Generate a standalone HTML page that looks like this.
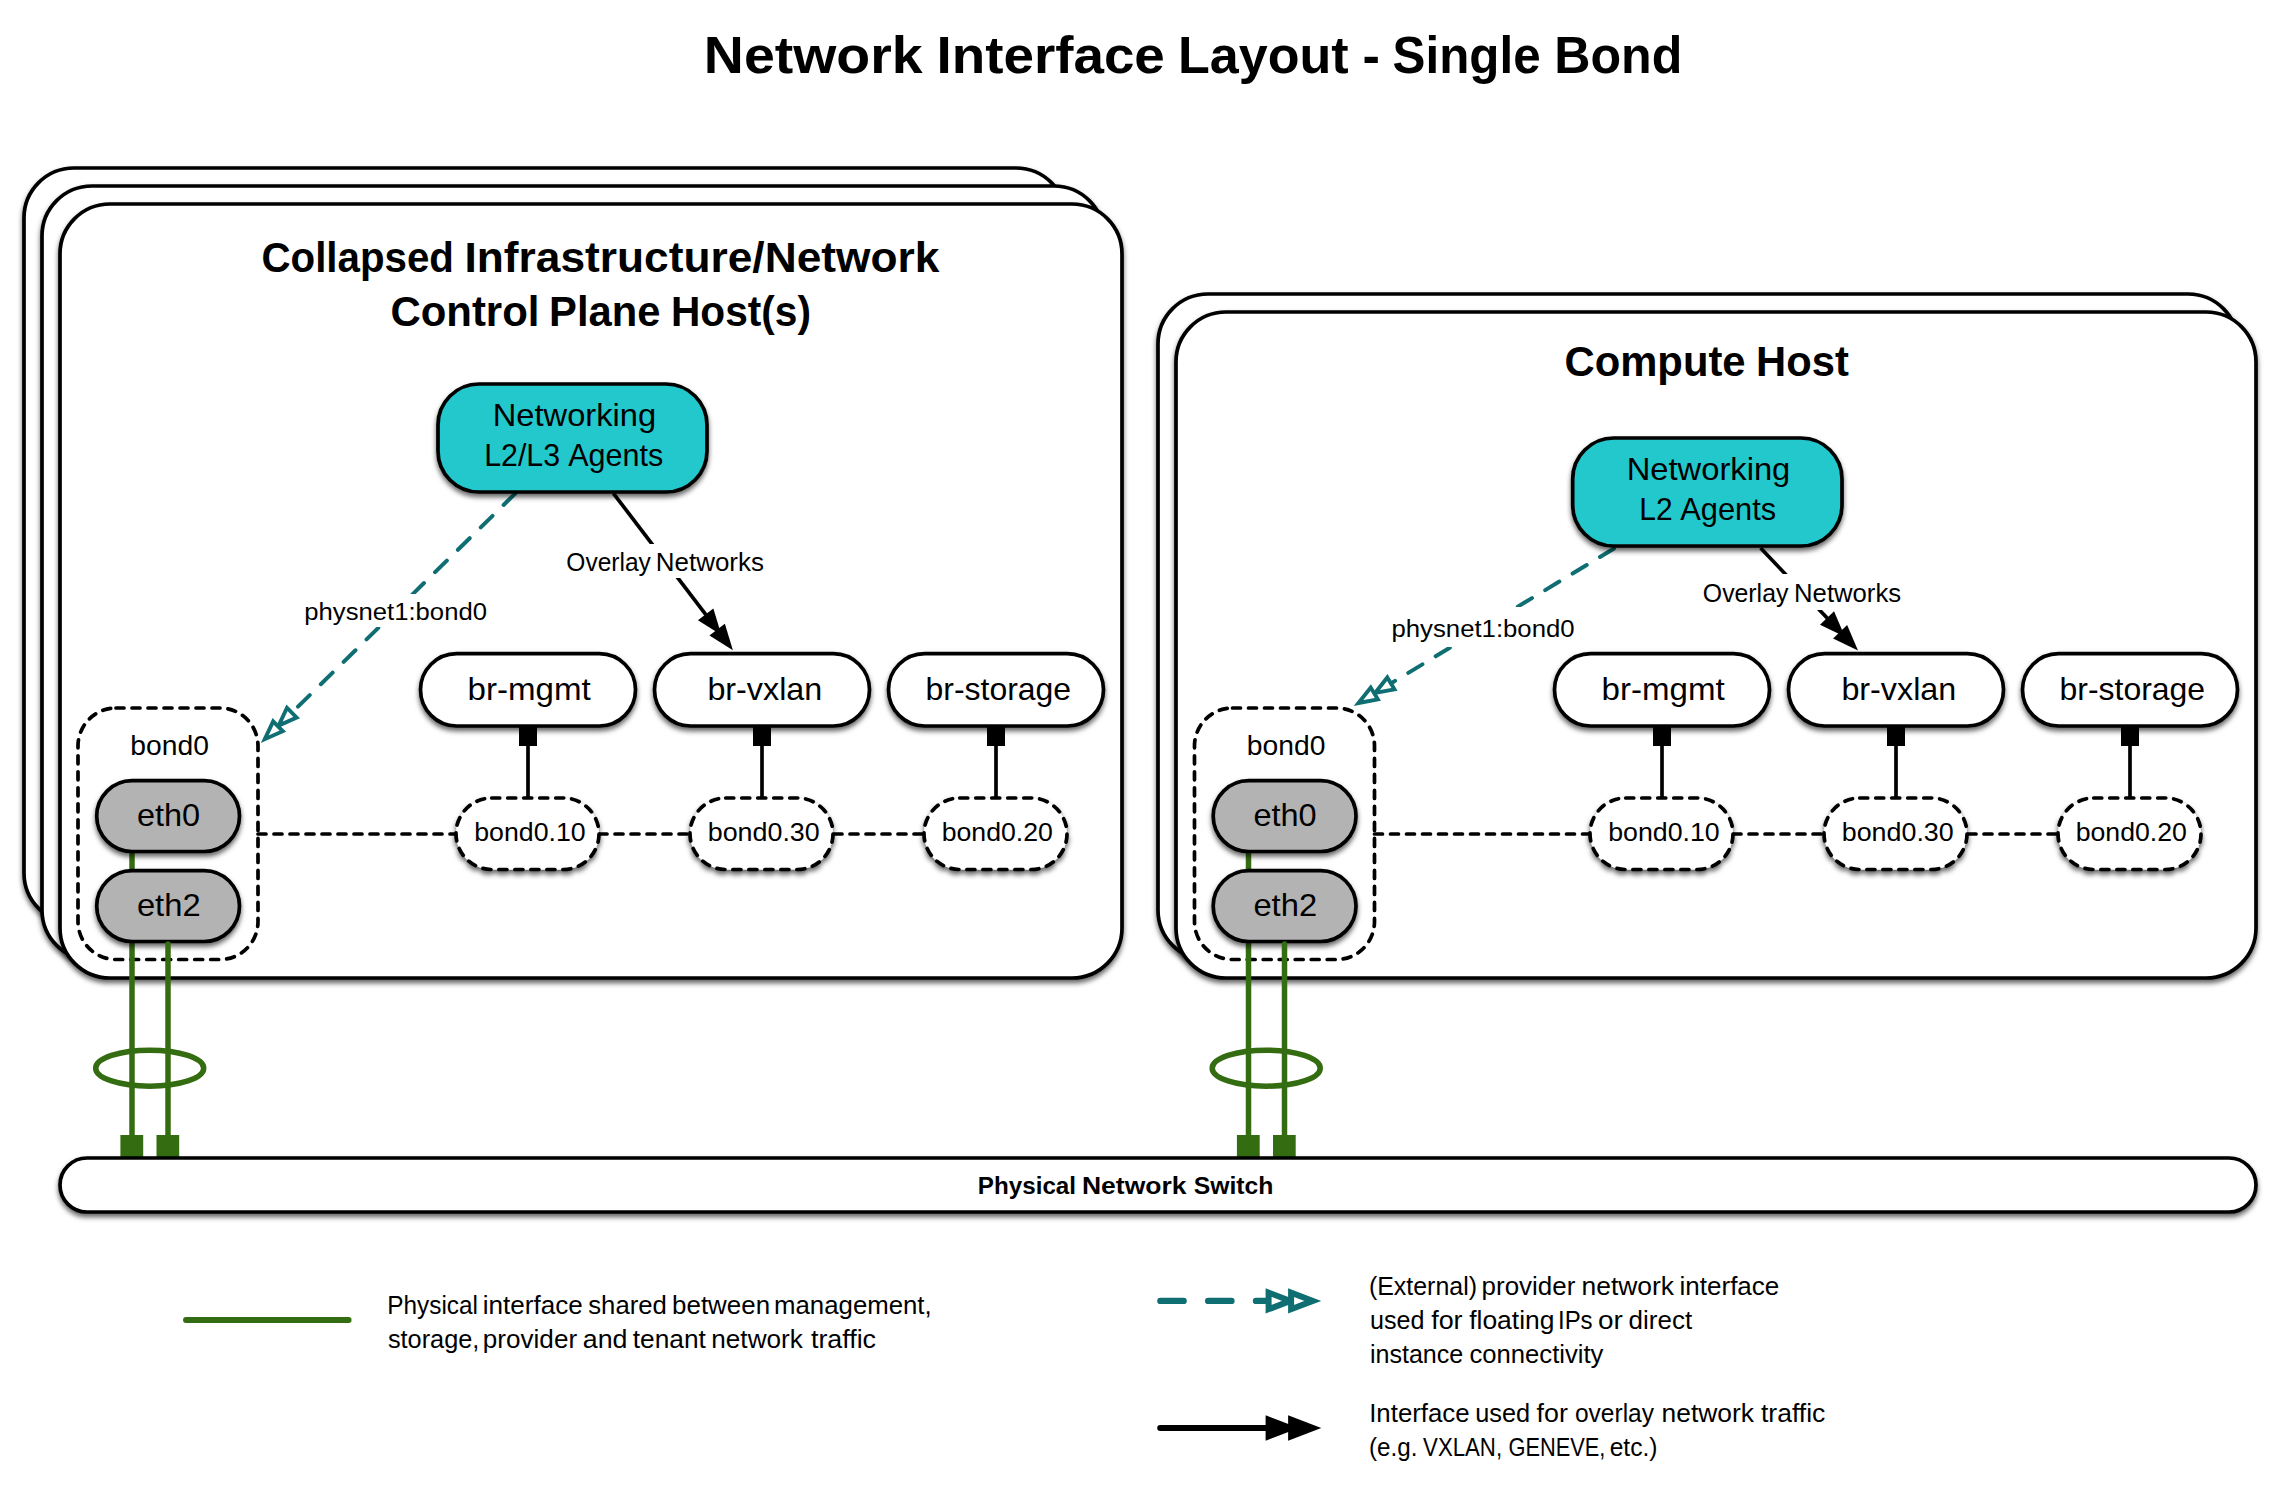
<!DOCTYPE html>
<html><head><meta charset="utf-8"><title>Network Interface Layout - Single Bond</title>
<style>html,body{margin:0;padding:0;background:#fff;}svg{display:block;font-family:"Liberation Sans", sans-serif;}</style>
</head><body>
<svg width="2278" height="1492" viewBox="0 0 2278 1492">
<defs><filter id="sh" x="-10%" y="-10%" width="120%" height="130%"><feDropShadow dx="0" dy="3.5" stdDeviation="2.5" flood-color="#000" flood-opacity="0.6"/></filter></defs>
<rect x="0" y="0" width="2278" height="1492" fill="#fff"/>
<text x="703.86" y="72.70" font-size="52" font-weight="bold" textLength="218.73" lengthAdjust="spacingAndGlyphs" fill="#000">Network</text>
<text x="936.50" y="72.70" font-size="52" font-weight="bold" textLength="228.34" lengthAdjust="spacingAndGlyphs" fill="#000">Interface</text>
<text x="1178.09" y="72.70" font-size="52" font-weight="bold" textLength="170.59" lengthAdjust="spacingAndGlyphs" fill="#000">Layout</text>
<text x="1362.41" y="72.70" font-size="52" font-weight="bold" textLength="17.41" lengthAdjust="spacingAndGlyphs" fill="#000">-</text>
<text x="1392.62" y="72.70" font-size="52" font-weight="bold" textLength="148.01" lengthAdjust="spacingAndGlyphs" fill="#000">Single</text>
<text x="1554.22" y="72.70" font-size="52" font-weight="bold" textLength="128.03" lengthAdjust="spacingAndGlyphs" fill="#000">Bond</text>
<rect x="24.00" y="168.00" width="1042.00" height="755.00" rx="50.00" ry="50.00" fill="#fff" stroke="#000" stroke-width="3.7" filter="url(#sh)"/>
<rect x="42.00" y="186.00" width="1062.00" height="774.00" rx="50.00" ry="50.00" fill="#fff" stroke="#000" stroke-width="3.7" filter="url(#sh)"/>
<rect x="60.00" y="204.00" width="1062.00" height="774.00" rx="50.00" ry="50.00" fill="#fff" stroke="#000" stroke-width="3.7" filter="url(#sh)"/>
<rect x="1158.00" y="294.00" width="1080.00" height="666.00" rx="50.00" ry="50.00" fill="#fff" stroke="#000" stroke-width="3.7" filter="url(#sh)"/>
<rect x="1176.00" y="312.00" width="1080.00" height="666.00" rx="50.00" ry="50.00" fill="#fff" stroke="#000" stroke-width="3.7" filter="url(#sh)"/>
<text x="261.49" y="271.90" font-size="42" font-weight="bold" textLength="192.49" lengthAdjust="spacingAndGlyphs" fill="#000">Collapsed</text>
<text x="464.41" y="271.90" font-size="42" font-weight="bold" textLength="474.98" lengthAdjust="spacingAndGlyphs" fill="#000">Infrastructure/Network</text>
<text x="390.42" y="326.40" font-size="42" font-weight="bold" textLength="149.00" lengthAdjust="spacingAndGlyphs" fill="#000">Control</text>
<text x="549.08" y="326.40" font-size="42" font-weight="bold" textLength="111.40" lengthAdjust="spacingAndGlyphs" fill="#000">Plane</text>
<text x="670.96" y="326.40" font-size="42" font-weight="bold" textLength="140.05" lengthAdjust="spacingAndGlyphs" fill="#000">Host(s)</text>
<text x="1564.53" y="376.20" font-size="42" font-weight="bold" textLength="181.06" lengthAdjust="spacingAndGlyphs" fill="#000">Compute</text>
<text x="1756.08" y="376.20" font-size="42" font-weight="bold" textLength="92.73" lengthAdjust="spacingAndGlyphs" fill="#000">Host</text>
<line x1="516.80" y1="492.00" x2="289.36" y2="715.09" stroke="#0F6E72" stroke-width="4.0" stroke-linecap="round" stroke-dasharray="16.5 15.5" stroke-dashoffset="-2"/>
<line x1="613.40" y1="493.30" x2="708.66" y2="618.38" stroke="#000" stroke-width="3.7" stroke-linecap="butt"/>
<rect x="438.00" y="384.00" width="269.00" height="108.00" rx="41.00" ry="41.00" fill="#21C8CC" stroke="#000" stroke-width="3.7" filter="url(#sh)"/>
<text x="492.81" y="425.80" font-size="30.5" font-weight="normal" textLength="163.30" lengthAdjust="spacingAndGlyphs" fill="#000">Networking</text>
<text x="484.20" y="465.90" font-size="30.5" font-weight="normal" textLength="75.89" lengthAdjust="spacingAndGlyphs" fill="#000">L2/L3</text>
<text x="568.22" y="465.90" font-size="30.5" font-weight="normal" textLength="95.07" lengthAdjust="spacingAndGlyphs" fill="#000">Agents</text>
<rect x="298" y="594" width="196" height="33" fill="#fff"/>
<text x="304.33" y="620.00" font-size="23.5" font-weight="normal" textLength="182.63" lengthAdjust="spacingAndGlyphs" fill="#000">physnet1:bond0</text>
<rect x="560" y="544" width="210" height="34" fill="#fff"/>
<text x="566.33" y="571.30" font-size="25.5" font-weight="normal" textLength="84.54" lengthAdjust="spacingAndGlyphs" fill="#000">Overlay</text>
<text x="655.86" y="571.30" font-size="25.5" font-weight="normal" textLength="108.05" lengthAdjust="spacingAndGlyphs" fill="#000">Networks</text>
<polygon points="278.63,725.61 286.99,707.75 296.64,717.59" fill="#fff" stroke="#0F6E72" stroke-width="3.9" stroke-linejoin="miter" stroke-miterlimit="10"/>
<polygon points="264.78,739.19 273.14,721.34 282.79,731.18" fill="#fff" stroke="#0F6E72" stroke-width="3.9" stroke-linejoin="miter" stroke-miterlimit="10"/>
<polygon points="721.39,635.08 697.92,620.28 713.35,608.52" fill="#000"/>
<polygon points="732.90,650.20 709.43,635.39 724.86,623.64" fill="#000"/>
<rect x="519.00" y="727" width="18" height="19" fill="#000"/>
<line x1="528.00" y1="746.00" x2="528.00" y2="798.00" stroke="#000" stroke-width="3.7" stroke-linecap="butt"/>
<rect x="753.00" y="727" width="18" height="19" fill="#000"/>
<line x1="762.00" y1="746.00" x2="762.00" y2="798.00" stroke="#000" stroke-width="3.7" stroke-linecap="butt"/>
<rect x="987.00" y="727" width="18" height="19" fill="#000"/>
<line x1="996.00" y1="746.00" x2="996.00" y2="798.00" stroke="#000" stroke-width="3.7" stroke-linecap="butt"/>
<line x1="258.00" y1="834.00" x2="456.00" y2="834.00" stroke="#000" stroke-width="3.7" stroke-linecap="round" stroke-dasharray="8 8" stroke-dashoffset="0"/>
<line x1="599.00" y1="834.00" x2="690.00" y2="834.00" stroke="#000" stroke-width="3.7" stroke-linecap="round" stroke-dasharray="8 8" stroke-dashoffset="0"/>
<line x1="834.00" y1="834.00" x2="924.50" y2="834.00" stroke="#000" stroke-width="3.7" stroke-linecap="round" stroke-dasharray="8 8" stroke-dashoffset="0"/>
<rect x="420.50" y="653.70" width="215.00" height="72.30" rx="36.15" ry="36.15" fill="#fff" stroke="#000" stroke-width="3.7" filter="url(#sh)"/>
<text x="467.55" y="700.00" font-size="31.5" font-weight="normal" textLength="123.09" lengthAdjust="spacingAndGlyphs" fill="#000">br-mgmt</text>
<rect x="654.50" y="653.70" width="215.00" height="72.30" rx="36.15" ry="36.15" fill="#fff" stroke="#000" stroke-width="3.7" filter="url(#sh)"/>
<text x="707.40" y="700.00" font-size="31.5" font-weight="normal" textLength="114.87" lengthAdjust="spacingAndGlyphs" fill="#000">br-vxlan</text>
<rect x="888.50" y="653.70" width="215.00" height="72.30" rx="36.15" ry="36.15" fill="#fff" stroke="#000" stroke-width="3.7" filter="url(#sh)"/>
<text x="925.52" y="700.00" font-size="31.5" font-weight="normal" textLength="145.64" lengthAdjust="spacingAndGlyphs" fill="#000">br-storage</text>
<rect x="456.00" y="798.00" width="143.00" height="71.50" rx="35.75" ry="35.75" fill="#fff" stroke="#000" stroke-width="3.7" stroke-dasharray="8 8" stroke-linecap="round" filter="url(#sh)"/>
<text x="474.26" y="840.50" font-size="25.5" font-weight="normal" textLength="111.47" lengthAdjust="spacingAndGlyphs" fill="#000">bond0.10</text>
<rect x="690.00" y="798.00" width="143.00" height="71.50" rx="35.75" ry="35.75" fill="#fff" stroke="#000" stroke-width="3.7" stroke-dasharray="8 8" stroke-linecap="round" filter="url(#sh)"/>
<text x="707.75" y="840.50" font-size="25.5" font-weight="normal" textLength="111.98" lengthAdjust="spacingAndGlyphs" fill="#000">bond0.30</text>
<rect x="924.00" y="798.00" width="143.00" height="71.50" rx="35.75" ry="35.75" fill="#fff" stroke="#000" stroke-width="3.7" stroke-dasharray="8 8" stroke-linecap="round" filter="url(#sh)"/>
<text x="941.67" y="840.50" font-size="25.5" font-weight="normal" textLength="111.26" lengthAdjust="spacingAndGlyphs" fill="#000">bond0.20</text>
<rect x="78.00" y="708.00" width="180.00" height="251.50" rx="38.00" ry="38.00" fill="none" stroke="#000" stroke-width="3.7" stroke-dasharray="8 8" stroke-linecap="round"/>
<text x="130.36" y="754.90" font-size="27.4" font-weight="normal" textLength="78.52" lengthAdjust="spacingAndGlyphs" fill="#000">bond0</text>
<line x1="132.00" y1="851.00" x2="132.00" y2="1140.00" stroke="#346C11" stroke-width="5.5" stroke-linecap="butt"/>
<rect x="96.70" y="780.70" width="142.80" height="70.80" rx="35.40" ry="35.40" fill="#B3B3B3" stroke="#000" stroke-width="3.7" filter="url(#sh)"/>
<text x="136.92" y="825.70" font-size="31.6" font-weight="normal" textLength="63.24" lengthAdjust="spacingAndGlyphs" fill="#000">eth0</text>
<rect x="96.70" y="870.60" width="142.80" height="70.90" rx="35.40" ry="35.40" fill="#B3B3B3" stroke="#000" stroke-width="3.7" filter="url(#sh)"/>
<text x="136.91" y="915.60" font-size="31.6" font-weight="normal" textLength="63.67" lengthAdjust="spacingAndGlyphs" fill="#000">eth2</text>
<line x1="168.00" y1="944.00" x2="168.00" y2="1140.00" stroke="#346C11" stroke-width="5.5" stroke-linecap="round"/>
<ellipse cx="149.70" cy="1068.2" rx="54" ry="18" fill="none" stroke="#346C11" stroke-width="5.5"/>
<rect x="120.40" y="1135" width="22.8" height="22" fill="#346C11"/>
<rect x="156.50" y="1135" width="22.7" height="22" fill="#346C11"/>
<line x1="1615.80" y1="547.40" x2="1387.93" y2="685.20" stroke="#0F6E72" stroke-width="4.0" stroke-linecap="round" stroke-dasharray="16.5 15.5" stroke-dashoffset="-2"/>
<line x1="1760.60" y1="548.00" x2="1830.46" y2="621.59" stroke="#000" stroke-width="3.7" stroke-linecap="butt"/>
<rect x="1572.70" y="438.00" width="269.30" height="108.00" rx="41.00" ry="41.00" fill="#21C8CC" stroke="#000" stroke-width="3.7" filter="url(#sh)"/>
<text x="1626.70" y="479.50" font-size="30.5" font-weight="normal" textLength="163.61" lengthAdjust="spacingAndGlyphs" fill="#000">Networking</text>
<text x="1639.23" y="519.90" font-size="30.5" font-weight="normal" textLength="33.34" lengthAdjust="spacingAndGlyphs" fill="#000">L2</text>
<text x="1680.22" y="519.90" font-size="30.5" font-weight="normal" textLength="95.88" lengthAdjust="spacingAndGlyphs" fill="#000">Agents</text>
<rect x="1385" y="607" width="197" height="40" fill="#fff"/>
<text x="1391.53" y="636.90" font-size="23.5" font-weight="normal" textLength="183.03" lengthAdjust="spacingAndGlyphs" fill="#000">physnet1:bond0</text>
<rect x="1697" y="574" width="211" height="36" fill="#fff"/>
<text x="1702.82" y="601.90" font-size="25.5" font-weight="normal" textLength="85.55" lengthAdjust="spacingAndGlyphs" fill="#000">Overlay</text>
<text x="1794.08" y="601.90" font-size="25.5" font-weight="normal" textLength="107.02" lengthAdjust="spacingAndGlyphs" fill="#000">Networks</text>
<polygon points="1375.07,692.97 1387.31,677.52 1394.45,689.31" fill="#fff" stroke="#0F6E72" stroke-width="3.9" stroke-linejoin="miter" stroke-miterlimit="10"/>
<polygon points="1358.47,703.01 1370.71,687.56 1377.85,699.35" fill="#fff" stroke="#0F6E72" stroke-width="3.9" stroke-linejoin="miter" stroke-miterlimit="10"/>
<polygon points="1844.92,636.82 1819.98,624.64 1834.05,611.29" fill="#000"/>
<polygon points="1858.00,650.60 1833.06,638.42 1847.13,625.07" fill="#000"/>
<rect x="1653.00" y="727" width="18" height="19" fill="#000"/>
<line x1="1662.00" y1="746.00" x2="1662.00" y2="798.00" stroke="#000" stroke-width="3.7" stroke-linecap="butt"/>
<rect x="1887.00" y="727" width="18" height="19" fill="#000"/>
<line x1="1896.00" y1="746.00" x2="1896.00" y2="798.00" stroke="#000" stroke-width="3.7" stroke-linecap="butt"/>
<rect x="2121.00" y="727" width="18" height="19" fill="#000"/>
<line x1="2130.00" y1="746.00" x2="2130.00" y2="798.00" stroke="#000" stroke-width="3.7" stroke-linecap="butt"/>
<line x1="1374.50" y1="834.00" x2="1590.00" y2="834.00" stroke="#000" stroke-width="3.7" stroke-linecap="round" stroke-dasharray="8 8" stroke-dashoffset="0"/>
<line x1="1733.00" y1="834.00" x2="1824.00" y2="834.00" stroke="#000" stroke-width="3.7" stroke-linecap="round" stroke-dasharray="8 8" stroke-dashoffset="0"/>
<line x1="1968.00" y1="834.00" x2="2058.50" y2="834.00" stroke="#000" stroke-width="3.7" stroke-linecap="round" stroke-dasharray="8 8" stroke-dashoffset="0"/>
<rect x="1554.50" y="653.70" width="215.00" height="72.30" rx="36.15" ry="36.15" fill="#fff" stroke="#000" stroke-width="3.7" filter="url(#sh)"/>
<text x="1601.55" y="700.00" font-size="31.5" font-weight="normal" textLength="123.09" lengthAdjust="spacingAndGlyphs" fill="#000">br-mgmt</text>
<rect x="1788.50" y="653.70" width="215.00" height="72.30" rx="36.15" ry="36.15" fill="#fff" stroke="#000" stroke-width="3.7" filter="url(#sh)"/>
<text x="1841.40" y="700.00" font-size="31.5" font-weight="normal" textLength="114.87" lengthAdjust="spacingAndGlyphs" fill="#000">br-vxlan</text>
<rect x="2022.50" y="653.70" width="215.00" height="72.30" rx="36.15" ry="36.15" fill="#fff" stroke="#000" stroke-width="3.7" filter="url(#sh)"/>
<text x="2059.52" y="700.00" font-size="31.5" font-weight="normal" textLength="145.64" lengthAdjust="spacingAndGlyphs" fill="#000">br-storage</text>
<rect x="1590.00" y="798.00" width="143.00" height="71.50" rx="35.75" ry="35.75" fill="#fff" stroke="#000" stroke-width="3.7" stroke-dasharray="8 8" stroke-linecap="round" filter="url(#sh)"/>
<text x="1608.26" y="840.50" font-size="25.5" font-weight="normal" textLength="111.47" lengthAdjust="spacingAndGlyphs" fill="#000">bond0.10</text>
<rect x="1824.00" y="798.00" width="143.00" height="71.50" rx="35.75" ry="35.75" fill="#fff" stroke="#000" stroke-width="3.7" stroke-dasharray="8 8" stroke-linecap="round" filter="url(#sh)"/>
<text x="1841.75" y="840.50" font-size="25.5" font-weight="normal" textLength="111.98" lengthAdjust="spacingAndGlyphs" fill="#000">bond0.30</text>
<rect x="2058.00" y="798.00" width="143.00" height="71.50" rx="35.75" ry="35.75" fill="#fff" stroke="#000" stroke-width="3.7" stroke-dasharray="8 8" stroke-linecap="round" filter="url(#sh)"/>
<text x="2075.67" y="840.50" font-size="25.5" font-weight="normal" textLength="111.26" lengthAdjust="spacingAndGlyphs" fill="#000">bond0.20</text>
<rect x="1194.50" y="708.00" width="180.00" height="251.50" rx="38.00" ry="38.00" fill="none" stroke="#000" stroke-width="3.7" stroke-dasharray="8 8" stroke-linecap="round"/>
<text x="1246.86" y="754.90" font-size="27.4" font-weight="normal" textLength="78.52" lengthAdjust="spacingAndGlyphs" fill="#000">bond0</text>
<line x1="1248.50" y1="851.00" x2="1248.50" y2="1140.00" stroke="#346C11" stroke-width="5.5" stroke-linecap="butt"/>
<rect x="1213.20" y="780.70" width="142.80" height="70.80" rx="35.40" ry="35.40" fill="#B3B3B3" stroke="#000" stroke-width="3.7" filter="url(#sh)"/>
<text x="1253.42" y="825.70" font-size="31.6" font-weight="normal" textLength="63.24" lengthAdjust="spacingAndGlyphs" fill="#000">eth0</text>
<rect x="1213.20" y="870.60" width="142.80" height="70.90" rx="35.40" ry="35.40" fill="#B3B3B3" stroke="#000" stroke-width="3.7" filter="url(#sh)"/>
<text x="1253.41" y="915.60" font-size="31.6" font-weight="normal" textLength="63.67" lengthAdjust="spacingAndGlyphs" fill="#000">eth2</text>
<line x1="1284.50" y1="944.00" x2="1284.50" y2="1140.00" stroke="#346C11" stroke-width="5.5" stroke-linecap="round"/>
<ellipse cx="1266.20" cy="1068.2" rx="54" ry="18" fill="none" stroke="#346C11" stroke-width="5.5"/>
<rect x="1236.90" y="1135" width="22.8" height="22" fill="#346C11"/>
<rect x="1273.00" y="1135" width="22.7" height="22" fill="#346C11"/>
<rect x="60.00" y="1158.00" width="2196.00" height="54.00" rx="27.00" ry="27.00" fill="#fff" stroke="#000" stroke-width="3.7" filter="url(#sh)"/>
<text x="977.87" y="1193.90" font-size="24.7" font-weight="bold" textLength="98.14" lengthAdjust="spacingAndGlyphs" fill="#000">Physical</text>
<text x="1082.01" y="1193.90" font-size="24.7" font-weight="bold" textLength="104.43" lengthAdjust="spacingAndGlyphs" fill="#000">Network</text>
<text x="1193.66" y="1193.90" font-size="24.7" font-weight="bold" textLength="79.73" lengthAdjust="spacingAndGlyphs" fill="#000">Switch</text>
<line x1="186.00" y1="1320.00" x2="348.60" y2="1320.00" stroke="#346C11" stroke-width="5.9" stroke-linecap="round"/>
<text x="387.29" y="1314.10" font-size="25.7" font-weight="normal" textLength="90.72" lengthAdjust="spacingAndGlyphs" fill="#000">Physical</text>
<text x="482.74" y="1314.10" font-size="25.7" font-weight="normal" textLength="99.98" lengthAdjust="spacingAndGlyphs" fill="#000">interface</text>
<text x="588.29" y="1314.10" font-size="25.7" font-weight="normal" textLength="78.52" lengthAdjust="spacingAndGlyphs" fill="#000">shared</text>
<text x="672.12" y="1314.10" font-size="25.7" font-weight="normal" textLength="97.93" lengthAdjust="spacingAndGlyphs" fill="#000">between</text>
<text x="774.06" y="1314.10" font-size="25.7" font-weight="normal" textLength="157.66" lengthAdjust="spacingAndGlyphs" fill="#000">management,</text>
<text x="387.90" y="1347.80" font-size="25.7" font-weight="normal" textLength="91.50" lengthAdjust="spacingAndGlyphs" fill="#000">storage,</text>
<text x="482.80" y="1347.80" font-size="25.7" font-weight="normal" textLength="94.30" lengthAdjust="spacingAndGlyphs" fill="#000">provider</text>
<text x="582.86" y="1347.80" font-size="25.7" font-weight="normal" textLength="44.64" lengthAdjust="spacingAndGlyphs" fill="#000">and</text>
<text x="632.81" y="1347.80" font-size="25.7" font-weight="normal" textLength="73.10" lengthAdjust="spacingAndGlyphs" fill="#000">tenant</text>
<text x="711.34" y="1347.80" font-size="25.7" font-weight="normal" textLength="91.44" lengthAdjust="spacingAndGlyphs" fill="#000">network</text>
<text x="811.00" y="1347.80" font-size="25.7" font-weight="normal" textLength="65.02" lengthAdjust="spacingAndGlyphs" fill="#000">traffic</text>
<line x1="1160.35" y1="1300.90" x2="1270.00" y2="1300.90" stroke="#0F6E72" stroke-width="6.3" stroke-linecap="round" stroke-dasharray="23.3 24.5" stroke-dashoffset="0"/>
<polygon points="1290.37,1300.90 1268.60,1309.20 1268.60,1292.60" fill="#fff" stroke="#0F6E72" stroke-width="6.0" stroke-linejoin="miter" stroke-miterlimit="10"/>
<polygon points="1312.87,1300.90 1291.10,1309.20 1291.10,1292.60" fill="#fff" stroke="#0F6E72" stroke-width="6.0" stroke-linejoin="miter" stroke-miterlimit="10"/>
<text x="1368.94" y="1294.80" font-size="25.7" font-weight="normal" textLength="108.04" lengthAdjust="spacingAndGlyphs" fill="#000">(External)</text>
<text x="1481.61" y="1294.80" font-size="25.7" font-weight="normal" textLength="93.68" lengthAdjust="spacingAndGlyphs" fill="#000">provider</text>
<text x="1581.52" y="1294.80" font-size="25.7" font-weight="normal" textLength="92.46" lengthAdjust="spacingAndGlyphs" fill="#000">network</text>
<text x="1679.54" y="1294.80" font-size="25.7" font-weight="normal" textLength="99.78" lengthAdjust="spacingAndGlyphs" fill="#000">interface</text>
<text x="1369.97" y="1328.60" font-size="25.7" font-weight="normal" textLength="54.43" lengthAdjust="spacingAndGlyphs" fill="#000">used</text>
<text x="1431.20" y="1328.60" font-size="25.7" font-weight="normal" textLength="31.39" lengthAdjust="spacingAndGlyphs" fill="#000">for</text>
<text x="1469.20" y="1328.60" font-size="25.7" font-weight="normal" textLength="85.31" lengthAdjust="spacingAndGlyphs" fill="#000">floating</text>
<text x="1557.98" y="1328.60" font-size="25.7" font-weight="normal" textLength="34.65" lengthAdjust="spacingAndGlyphs" fill="#000">IPs</text>
<text x="1597.91" y="1328.60" font-size="25.7" font-weight="normal" textLength="24.85" lengthAdjust="spacingAndGlyphs" fill="#000">or</text>
<text x="1628.60" y="1328.60" font-size="25.7" font-weight="normal" textLength="63.51" lengthAdjust="spacingAndGlyphs" fill="#000">direct</text>
<text x="1369.91" y="1362.50" font-size="25.7" font-weight="normal" textLength="93.41" lengthAdjust="spacingAndGlyphs" fill="#000">instance</text>
<text x="1469.51" y="1362.50" font-size="25.7" font-weight="normal" textLength="133.95" lengthAdjust="spacingAndGlyphs" fill="#000">connectivity</text>
<line x1="1160.20" y1="1428.00" x2="1290.00" y2="1428.00" stroke="#000" stroke-width="6" stroke-linecap="round"/>
<polygon points="1298.80,1428.00 1265.60,1440.65 1265.60,1415.35" fill="#000"/>
<polygon points="1321.30,1428.00 1288.10,1440.65 1288.10,1415.35" fill="#000"/>
<text x="1369.21" y="1422.10" font-size="25.7" font-weight="normal" textLength="100.42" lengthAdjust="spacingAndGlyphs" fill="#000">Interface</text>
<text x="1475.25" y="1422.10" font-size="25.7" font-weight="normal" textLength="54.96" lengthAdjust="spacingAndGlyphs" fill="#000">used</text>
<text x="1536.60" y="1422.10" font-size="25.7" font-weight="normal" textLength="31.29" lengthAdjust="spacingAndGlyphs" fill="#000">for</text>
<text x="1574.96" y="1422.10" font-size="25.7" font-weight="normal" textLength="79.03" lengthAdjust="spacingAndGlyphs" fill="#000">overlay</text>
<text x="1661.62" y="1422.10" font-size="25.7" font-weight="normal" textLength="92.36" lengthAdjust="spacingAndGlyphs" fill="#000">network</text>
<text x="1761.00" y="1422.10" font-size="25.7" font-weight="normal" textLength="64.31" lengthAdjust="spacingAndGlyphs" fill="#000">traffic</text>
<text x="1368.99" y="1456.00" font-size="25.7" font-weight="normal" textLength="48.42" lengthAdjust="spacingAndGlyphs" fill="#000">(e.g.</text>
<text x="1423.09" y="1456.00" font-size="25.7" font-weight="normal" textLength="79.00" lengthAdjust="spacingAndGlyphs" fill="#000">VXLAN,</text>
<text x="1508.51" y="1456.00" font-size="25.7" font-weight="normal" textLength="96.87" lengthAdjust="spacingAndGlyphs" fill="#000">GENEVE,</text>
<text x="1609.66" y="1456.00" font-size="25.7" font-weight="normal" textLength="47.82" lengthAdjust="spacingAndGlyphs" fill="#000">etc.)</text>
</svg>
</body></html>
